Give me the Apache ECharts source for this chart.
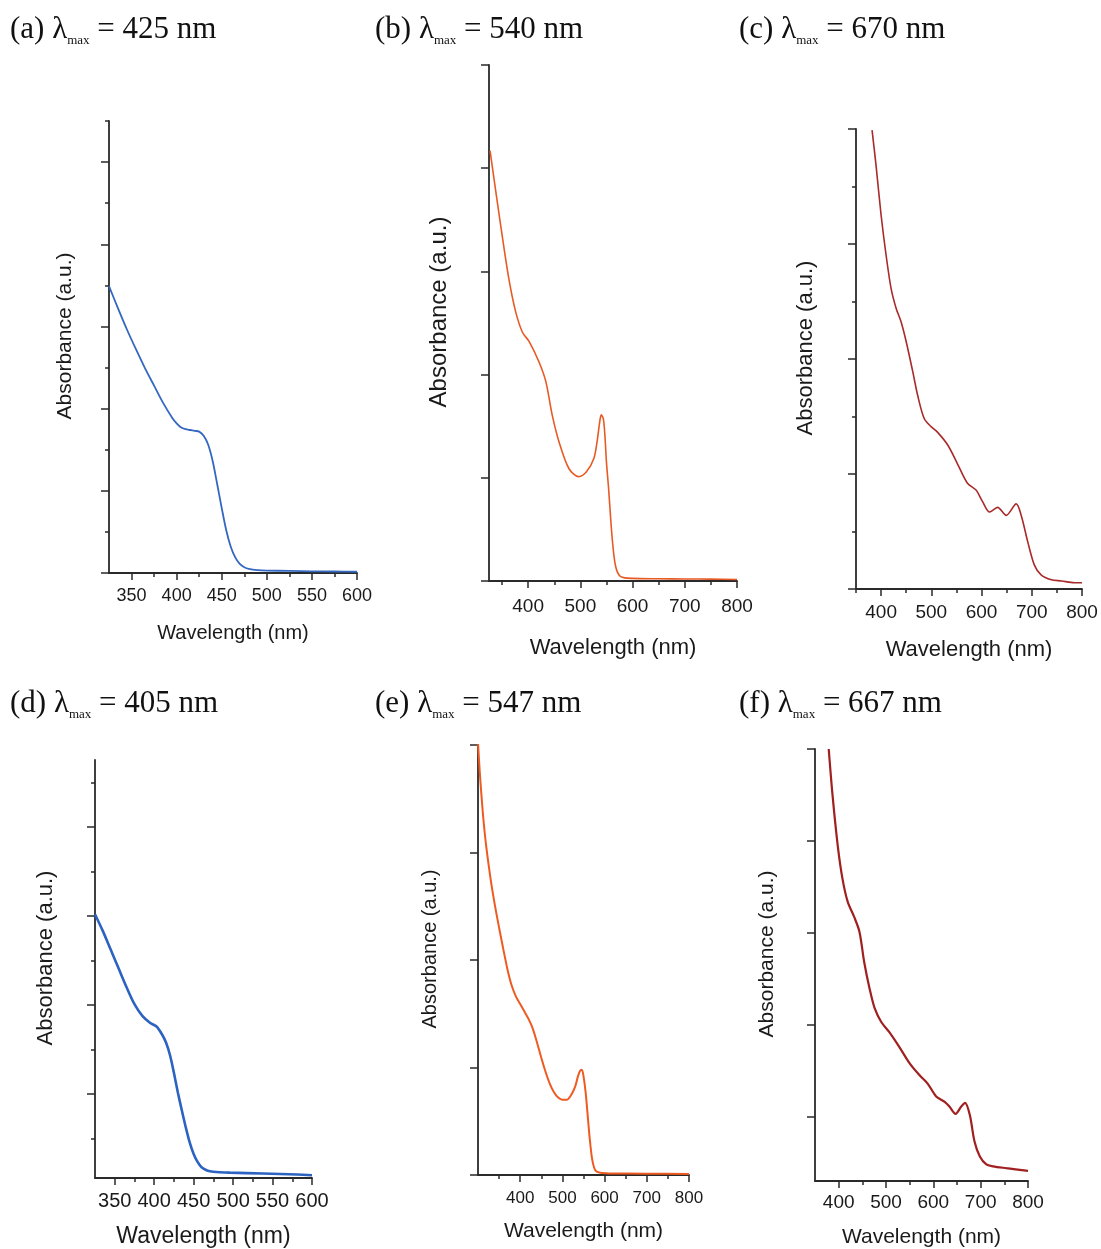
<!DOCTYPE html>
<html>
<head>
<meta charset="utf-8">
<script src="https://cdn.jsdelivr.net/npm/echarts@6/dist/echarts.min.js"></script>
<style>
html, body { margin: 0; padding: 0; background: #fff; }
#chart { width: 1101px; height: 1249px; }
</style>
</head>
<body>
<div id="chart"></div>
<script>
// spectra (wavelength nm / absorbance a.u.)
const wlA = [325, 335, 345, 355, 365, 375, 385, 395, 400, 405, 410, 415, 420, 425, 430, 435, 440, 445, 450, 455, 460, 465, 470, 475, 480, 490, 500, 525, 550, 575, 600]
const absA = [3.49, 3.22, 2.96, 2.72, 2.49, 2.28, 2.07, 1.89, 1.82, 1.77, 1.75, 1.74, 1.73, 1.72, 1.67, 1.56, 1.36, 1.08, 0.79, 0.52, 0.32, 0.19, 0.11, 0.07, 0.05, 0.035, 0.03, 0.025, 0.02, 0.018, 0.015]

const wlB = [327, 339, 351, 364, 376, 389, 402, 421, 434, 446, 459, 478, 497, 512, 526, 532, 537, 540, 544, 547, 550, 554, 561, 567, 575, 585, 600, 650, 700, 750, 800]
const absB = [4.17, 3.74, 3.32, 2.90, 2.61, 2.41, 2.32, 2.12, 1.93, 1.61, 1.35, 1.09, 1.01, 1.06, 1.19, 1.35, 1.54, 1.61, 1.57, 1.41, 1.15, 0.90, 0.41, 0.155, 0.05, 0.03, 0.025, 0.022, 0.02, 0.018, 0.015]

const wlC = [382, 390, 400, 410, 420, 430, 440, 450, 463, 473, 486, 500, 513, 533, 553, 572, 589, 602, 616, 632, 649, 669, 679, 692, 705, 719, 739, 759, 785, 800]
const absC = [3.99, 3.68, 3.25, 2.90, 2.61, 2.44, 2.32, 2.15, 1.89, 1.68, 1.48, 1.41, 1.36, 1.25, 1.08, 0.92, 0.86, 0.76, 0.67, 0.71, 0.64, 0.74, 0.64, 0.41, 0.21, 0.12, 0.08, 0.07, 0.055, 0.055]

const wlD = [325, 335, 345, 355, 365, 375, 385, 395, 403, 410, 415, 420, 425, 430, 435, 440, 445, 450, 455, 460, 467, 475, 496, 538, 581, 600]
const absD = [3.02, 2.83, 2.62, 2.41, 2.20, 2.01, 1.88, 1.80, 1.76, 1.67, 1.58, 1.44, 1.24, 1.02, 0.82, 0.63, 0.46, 0.33, 0.24, 0.18, 0.145, 0.13, 0.12, 0.11, 0.10, 0.09]

const wlE = [300, 304, 308, 313, 320, 330, 340, 350, 360, 370, 380, 390, 400, 410, 420, 430, 440, 450, 460, 470, 480, 490, 500, 510, 520, 530, 537, 542, 546, 550, 555, 560, 565, 570, 575, 580, 590, 611, 700, 800]
const absE = [4.02, 3.76, 3.54, 3.30, 3.04, 2.75, 2.51, 2.30, 2.10, 1.91, 1.76, 1.66, 1.59, 1.52, 1.45, 1.36, 1.23, 1.09, 0.96, 0.85, 0.77, 0.72, 0.70, 0.70, 0.74, 0.82, 0.92, 0.97, 0.98, 0.92, 0.77, 0.55, 0.33, 0.16, 0.07, 0.035, 0.02, 0.015, 0.012, 0.01]

const wlF = [379, 387, 398, 408, 419, 433, 444, 454, 465, 476, 490, 507, 528, 550, 571, 588, 606, 624, 634, 647, 659, 667, 677, 687, 698, 712, 726, 754, 800]
const absF = [5.0, 4.50, 3.95, 3.59, 3.34, 3.17, 3.01, 2.68, 2.40, 2.18, 2.03, 1.92, 1.76, 1.58, 1.45, 1.36, 1.22, 1.16, 1.11, 1.03, 1.11, 1.15, 1.02, 0.73, 0.57, 0.48, 0.46, 0.44, 0.41]

// tick values
const xMajor6 = [350, 400, 450, 500, 550, 600]
const xMinor6 = [375, 425, 475, 525, 575]
const xMajor8 = [400, 500, 600, 700, 800]
const xMinor8 = [350, 450, 550, 650, 750]
const yMajorA = [0, 1, 2, 3, 4, 5]
const yMinorA = [0.5, 1.5, 2.5, 3.5, 4.5, 5.5]
const yMajorB = [0, 1, 2, 3, 4, 5]
const yMajorC = [0, 1, 2, 3, 4]
const yMinorC = [0.5, 1.5, 2.5, 3.5]
const yMajorD = [1, 2, 3, 4]
const yMinorD = [0.5, 1.5, 2.5, 3.5, 4.5]
const yMajorE = [0, 1, 2, 3, 4]
const yMajorF = [1, 2, 3, 4, 5]

const peaks = [425, 540, 670, 405, 547, 667]
const tags = ['(a)', '(b)', '(c)', '(d)', '(e)', '(f)']

const axisColor = '#2a2a2a'
const sans = 'Liberation Sans'
const serif = 'Liberation Serif'

const panels = [
    { wl: wlA, abs: absA, color: '#3468c0', lw: 1.8, box: { left: 109, top: 121, width: 248, height: 452 },
      x: [325, 600], y: [0, 5.5], xMajor: xMajor6, xMinor: xMinor6, yMajor: yMajorA, yMinor: yMinorA,
      head: { left: 5, top: 8 }, tick: 18, name: 20, yName: 21, xGap: 50, yGap: 33, lab: 14 },
    { wl: wlB, abs: absB, color: '#e85a24', lw: 1.6, box: { left: 489, top: 65, width: 248, height: 516 },
      x: [325, 800], y: [0, 5], xMajor: xMajor8, xMinor: xMinor8, yMajor: yMajorB, yMinor: [],
      head: { left: 370, top: 8 }, tick: 19, name: 22, yName: 24, xGap: 56, yGap: 38, lab: 16 },
    { wl: wlC, abs: absC, color: '#a82a2a', lw: 1.6, box: { left: 856, top: 129, width: 226, height: 460 },
      x: [350, 800], y: [0, 4], xMajor: xMajor8, xMinor: [350].concat(xMinor8.slice(1)), yMajor: yMajorC, yMinor: yMinorC,
      head: { left: 734, top: 8 }, tick: 19, name: 22, yName: 22, xGap: 50, yGap: 39, lab: 14 },
    { wl: wlD, abs: absD, color: '#2c63c0', lw: 2.6, box: { left: 95, top: 760, width: 217, height: 420 },
      x: [325, 600], y: [0.06, 4.75], xMajor: xMajor6, xMinor: xMinor6, yMajor: yMajorD, yMinor: yMinorD,
      head: { left: 5, top: 682 }, tick: 20, name: 23, yName: 22, xGap: 47, yGap: 38, lab: 13 },
    { wl: wlE, abs: absE, color: '#ee5b22', lw: 2.0, box: { left: 478, top: 745, width: 211, height: 430 },
      x: [300, 800], y: [0, 4], xMajor: xMajor8, xMinor: xMinor8, yMajor: yMajorE, yMinor: [],
      head: { left: 370, top: 682 }, tick: 17, name: 21, yName: 20, xGap: 46, yGap: 38, lab: 15 },
    { wl: wlF, abs: absF, color: '#a01f1f', lw: 2.2, box: { left: 815, top: 749, width: 213, height: 433 },
      x: [350, 800], y: [0.3, 5], xMajor: xMajor8, xMinor: xMinor8.slice(1), yMajor: yMajorF, yMinor: [],
      head: { left: 734, top: 682 }, tick: 19, name: 21, yName: 21, xGap: 46, yGap: 37, lab: 12 }
]

const grid = [], xAxis = [], yAxis = [], series = [], title = []

panels.forEach((p, i) => {
    grid.push(Object.assign({}, p.box))
    title.push({
        text: '{t|' + tags[i] + ' λ}{s|max}{t| = ' + peaks[i] + ' nm}',
        left: p.head.left,
        top: p.head.top,
        textStyle: {
            fontWeight: 'normal',
            rich: {
                t: { fontFamily: serif, fontSize: 31, fontWeight: 'normal', color: '#111', lineHeight: 34 },
                s: { fontFamily: serif, fontSize: 13, fontWeight: 'normal', color: '#111', lineHeight: 9, verticalAlign: 'bottom' }
            }
        }
    })
    const lineStyle = { color: axisColor, width: 1.5 }
    // main x axis: line, major ticks, labels
    xAxis.push({
        gridIndex: i, type: 'value', min: p.x[0], max: p.x[1], position: 'bottom',
        axisLine: { show: true, onZero: false, lineStyle: { color: axisColor, width: 1.8 } },
        axisTick: { show: true, length: 7, customValues: p.xMajor, lineStyle: lineStyle },
        axisLabel: { customValues: p.xMajor, margin: p.lab, fontFamily: sans, fontSize: p.tick, color: '#1a1a1a' },
        splitLine: { show: false },
        name: 'Wavelength (nm)', nameLocation: 'middle', nameGap: p.xGap,
        nameTextStyle: { fontFamily: sans, fontSize: p.name, color: '#1a1a1a' }
    })
    // minor x ticks
    xAxis.push({
        gridIndex: i, type: 'value', min: p.x[0], max: p.x[1], position: 'bottom',
        axisLine: { show: false, onZero: false },
        axisTick: { show: p.xMinor.length > 0, length: 4, customValues: p.xMinor, lineStyle: lineStyle },
        axisLabel: { show: false },
        splitLine: { show: false }
    })
    yAxis.push({
        gridIndex: i, type: 'value', min: p.y[0], max: p.y[1], position: 'left',
        axisLine: { show: true, onZero: false, lineStyle: { color: axisColor, width: 1.8 } },
        axisTick: { show: true, length: 8, customValues: p.yMajor, lineStyle: lineStyle },
        axisLabel: { show: false },
        splitLine: { show: false },
        name: 'Absorbance (a.u.)', nameLocation: 'middle', nameGap: p.yGap, nameRotate: 90,
        nameTextStyle: { fontFamily: sans, fontSize: p.yName, color: '#1a1a1a', padding: [0, 0, 0, 22] }
    })
    yAxis.push({
        gridIndex: i, type: 'value', min: p.y[0], max: p.y[1], position: 'left',
        axisLine: { show: false, onZero: false },
        axisTick: { show: p.yMinor.length > 0, length: 4, customValues: p.yMinor.length ? p.yMinor : [p.y[0]], lineStyle: lineStyle },
        axisLabel: { show: false },
        splitLine: { show: false }
    })
    series.push({
        type: 'line',
        xAxisIndex: i * 2,
        yAxisIndex: i * 2,
        data: p.wl.map((w, k) => [w, p.abs[k]]),
        showSymbol: false,
        smooth: 0.3,
        lineStyle: { color: p.color, width: p.lw },
        silent: true
    })
})

const chart = echarts.init(document.getElementById('chart'))
chart.setOption({
    backgroundColor: '#fff',
    animation: false,
    title: title,
    grid: grid,
    xAxis: xAxis,
    yAxis: yAxis,
    series: series
})
</script>
</body>
</html>
